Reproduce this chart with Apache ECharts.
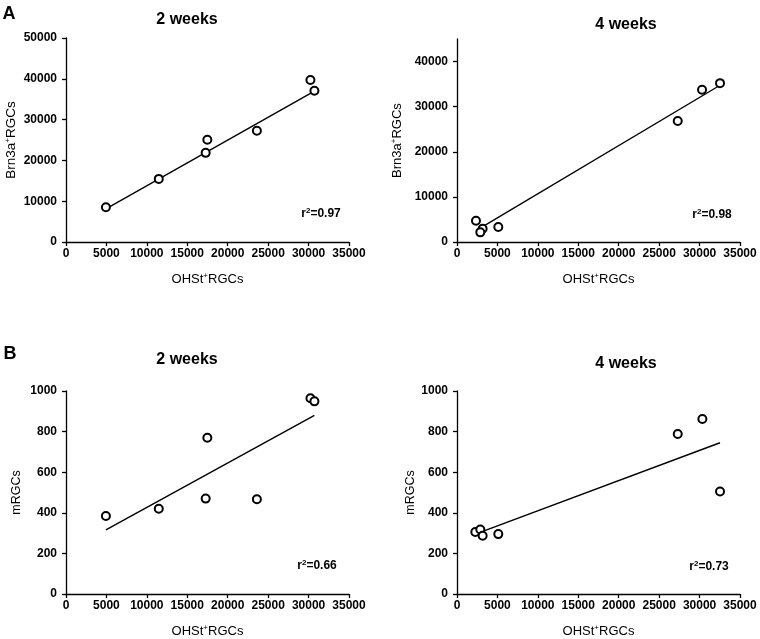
<!DOCTYPE html>
<html><head><meta charset="utf-8">
<script src="https://cdn.jsdelivr.net/npm/echarts@6/dist/echarts.min.js"></script>
<style>html,body{margin:0;padding:0;background:#fff}#c{width:760px;height:639px}</style>
</head><body><div id="c"></div>
<script>
// ---- data ----
const a2x = [4935, 11475, 17274, 17480, 23607, 30229, 30723];
const a2y = [8510, 15466, 21850, 25040, 27250, 39689, 37070];
const a4x = [2347, 3170, 2882, 5106, 27300, 30306, 32529];
const a4y = [4715, 2947, 2136, 3315, 26814, 33738, 35211];
const b2x = [4935, 11475, 17274, 17480, 23607, 30229, 30723];
const b2y = [384, 420, 470, 770, 467, 964, 949];
const b4x = [2265, 2882, 3170, 5106, 27300, 30347, 32529];
const b4y = [305, 318, 287, 295, 788, 862, 505];
// trend lines (endpoints)
const a2FitX = [4935, 30723], a2FitY = [8100, 37000];
const a4FitX = [2347, 32529], a4FitY = [2500, 34750];
const b2FitX = [4935, 30723], b2FitY = [316, 880];
const b4FitX = [2265, 32529], b4FitY = [295, 745];
const panelTitles = ['2 weeks', '4 weeks', '2 weeks', '4 weeks'];
const r2Labels = ['0.97', '0.98', '0.66', '0.73'];
const yTicksA4 = [0, 10000, 20000, 30000, 40000];

const FONT = '"Liberation Sans", Arial, sans-serif';
const zip = (xs, ys) => xs.map((x, i) => [x, ys[i]]);

const chart = echarts.init(document.getElementById('c'), null, {renderer: 'canvas'});

const grids = [
  {left: 66, top: 38, width: 283, height: 204},
  {left: 457, top: 39, width: 283, height: 203},
  {left: 66, top: 391, width: 283, height: 203},
  {left: 457, top: 391, width: 283, height: 203}
].map(g => Object.assign({containLabel: false, outerBoundsMode: 'none', show: false}, g));

const axisLine = {show: true, onZero: false, lineStyle: {color: '#000', width: 1.3}};
const axisTick = {show: true, inside: false, length: 4, lineStyle: {color: '#000', width: 1.3}};
const lblStyle = {color: '#000', fontFamily: FONT, fontWeight: 'bold', fontSize: 12};
const mkRich = (fs) => ({
  n: {fontSize: fs, fontFamily: FONT, color: '#000', lineHeight: fs + 2},
  s: {fontSize: 8, fontFamily: FONT, color: '#000', verticalAlign: 'top', lineHeight: 8}
});

const xAxes = [0, 1, 2, 3].map(i => ({
  type: 'value', gridIndex: i, min: 0, max: 35000, interval: 5000,
  axisLine, axisTick,
  axisLabel: Object.assign({margin: 6, showMinLabel: true, showMaxLabel: true, formatter: v => String(v)}, lblStyle),
  splitLine: {show: false},
  name: '{n|OHSt}{s|+}{n|RGCs}', nameLocation: 'middle', nameGap: 30,
  nameTextStyle: {rich: mkRich(13)}
}));

const yGaps = [47, 52, 42, 38];
const yFonts = [13.5, 13, 12.5, 12.5];
const yAxes = [0, 1, 2, 3].map(i => {
  const isB = i >= 2;
  const ax = {
    type: 'value', gridIndex: i, min: 0,
    max: isB ? 1000 : (i === 0 ? 50000 : 45000),
    interval: isB ? 200 : 10000,
    axisLine, axisTick: Object.assign({}, axisTick),
    axisLabel: Object.assign({margin: 9, showMinLabel: true, showMaxLabel: true, formatter: v => String(v)}, lblStyle),
    splitLine: {show: false},
    name: isB ? '{n|mRGCs}' : '{n|Brn3a}{s|+}{n|RGCs}',
    nameLocation: 'middle', nameGap: yGaps[i], nameRotate: 90,
    nameTextStyle: {rich: mkRich(yFonts[i])}
  };
  if (i === 1) {
    ax.axisLabel.customValues = yTicksA4;
    ax.axisTick.customValues = yTicksA4;
  }
  return ax;
});

const sets = [[a2x, a2y, a2FitX, a2FitY], [a4x, a4y, a4FitX, a4FitY], [b2x, b2y, b2FitX, b2FitY], [b4x, b4y, b4FitX, b4FitY]];
const series = [];
sets.forEach((s, i) => {
  series.push({
    type: 'line', xAxisIndex: i, yAxisIndex: i, data: zip(s[2], s[3]),
    symbol: 'none', silent: true, z: 2,
    lineStyle: {color: '#000', width: 1.4}
  });
  series.push({
    type: 'scatter', xAxisIndex: i, yAxisIndex: i, data: zip(s[0], s[1]),
    symbol: 'circle', symbolSize: 8, z: 3,
    itemStyle: {color: '#fff', borderColor: '#000', borderWidth: 2, opacity: 1}
  });
});

const titlePos = [[187, 20], [626, 25], [187, 360], [626, 364]];
const r2Pos = [[321, 214], [712, 215], [317, 566], [709, 567]];
const graphic = [];
titlePos.forEach((p, i) => graphic.push({
  type: 'text', x: p[0], y: p[1], silent: true,
  style: {text: panelTitles[i], fill: '#000', font: 'bold 16px ' + FONT, align: 'center', verticalAlign: 'middle'}
}));
r2Pos.forEach((p, i) => graphic.push({
  type: 'text', x: p[0], y: p[1], silent: true,
  style: {
    text: '{r|r}{s|2}{r|=' + r2Labels[i] + '}', align: 'center', verticalAlign: 'middle',
    rich: {
      r: {fontSize: 12, fontWeight: 'bold', fontFamily: FONT, fill: '#000', lineHeight: 14},
      s: {fontSize: 8, fontWeight: 'bold', fontFamily: FONT, fill: '#000', verticalAlign: 'top', lineHeight: 8}
    }
  }
}));
graphic.push({type: 'text', x: 9, y: 14, silent: true, style: {text: 'A', fill: '#000', font: 'bold 18px ' + FONT, align: 'center', verticalAlign: 'middle'}});
graphic.push({type: 'text', x: 10, y: 354, silent: true, style: {text: 'B', fill: '#000', font: 'bold 18px ' + FONT, align: 'center', verticalAlign: 'middle'}});

chart.setOption({
  animation: false,
  backgroundColor: '#fff',
  grid: grids,
  xAxis: xAxes,
  yAxis: yAxes,
  series,
  graphic
});
</script>
</body></html>
